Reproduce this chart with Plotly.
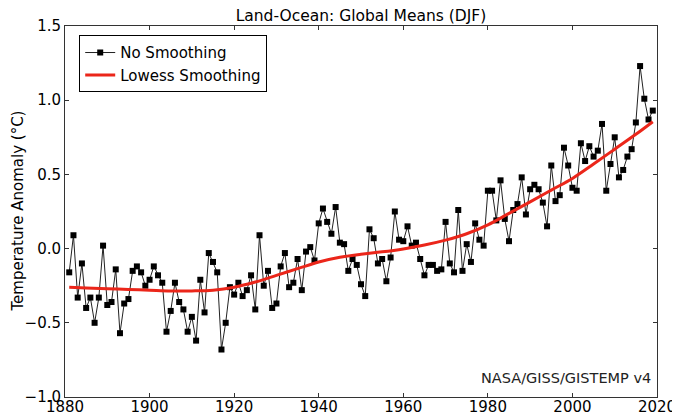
import plotly.graph_objects as go

years = list(range(1881, 2020))
anomaly = [
    -0.16, 0.09, -0.33, -0.10, -0.40, -0.33, -0.50, -0.33, 0.02, -0.38,   # 1881-1890
    -0.36, -0.14, -0.57, -0.37, -0.34, -0.15, -0.12, -0.16, -0.25, -0.21,  # 1891-1900
    -0.12, -0.18, -0.23, -0.56, -0.42, -0.23, -0.36, -0.41, -0.56, -0.46,  # 1901-1910
    -0.62, -0.21, -0.43, -0.03, -0.09, -0.16, -0.68, -0.50, -0.26, -0.31,  # 1911-1920
    -0.23, -0.32, -0.28, -0.18, -0.41, 0.09, -0.25, -0.15, -0.40, -0.37,   # 1921-1930
    -0.12, -0.03, -0.26, -0.23, -0.07, -0.28, -0.02, 0.01, -0.08, 0.17,    # 1931-1940
    0.27, 0.18, 0.10, 0.28, 0.04, 0.03, -0.15, -0.07, -0.11, -0.24,        # 1941-1950
    -0.32, 0.13, 0.07, -0.10, -0.07, -0.22, -0.06, 0.25, 0.06, 0.05,       # 1951-1960
    0.15, 0.02, 0.04, -0.07, -0.18, -0.11, -0.11, -0.15, -0.14, 0.18,      # 1961-1970
    -0.10, -0.16, 0.26, -0.15, 0.03, -0.09, 0.17, 0.06, 0.02, 0.39,        # 1971-1980
    0.39, 0.19, 0.46, 0.20, 0.05, 0.26, 0.30, 0.48, 0.23, 0.40,            # 1981-1990
    0.43, 0.40, 0.31, 0.15, 0.56, 0.32, 0.36, 0.68, 0.56, 0.41,            # 1991-2000
    0.39, 0.71, 0.59, 0.69, 0.62, 0.66, 0.84, 0.39, 0.57, 0.75,            # 2001-2010
    0.48, 0.53, 0.62, 0.67, 0.85, 1.23, 1.01, 0.87, 0.93,                  # 2011-2019
]

lowess_years = [1881, 1885, 1890, 1895, 1900, 1905, 1910, 1915, 1920, 1925,
                1930, 1935, 1940, 1945, 1950, 1955, 1960, 1965, 1970, 1975,
                1980, 1985, 1990, 1995, 2000, 2005, 2010, 2015, 2019]
lowess_vals = [-0.26, -0.265, -0.27, -0.275, -0.28, -0.285, -0.285, -0.28, -0.26, -0.225,
               -0.18, -0.135, -0.09, -0.058, -0.038, -0.022, -0.002, 0.024, 0.057, 0.10,
               0.16, 0.237, 0.315, 0.394, 0.473, 0.57, 0.67, 0.77, 0.855]

x_ticks = [1880, 1900, 1920, 1940, 1960, 1980, 2000, 2020]
y_ticks = [-1.0, -0.5, 0.0, 0.5, 1.0, 1.5]

FONT = "DejaVu Sans"

fig = go.Figure()
fig.add_trace(go.Scatter(
    x=years, y=anomaly, mode="lines+markers", name="No Smoothing",
    line=dict(color="#222222", width=1),
    marker=dict(symbol="square", size=6, color="black"),
))
fig.add_trace(go.Scatter(
    x=lowess_years, y=lowess_vals, mode="lines", name="Lowess Smoothing",
    line=dict(color="rgb(235,38,26)", width=3, shape="spline"),
))

axis_common = dict(
    showline=True, linecolor="#333333", linewidth=1, mirror="allticks",
    ticks="inside", ticklen=4, tickcolor="#333333",
    showgrid=False, zeroline=False, automargin=False,
    tickfont=dict(family=FONT, size=15, color="black"),
)

fig.update_xaxes(range=[1880, 2020], tickvals=x_ticks,
                 ticktext=[str(t) for t in x_ticks], ticklabelstandoff=-4,
                 **axis_common)
fig.update_yaxes(range=[-1.0, 1.5], tickvals=y_ticks,
                 ticktext=[f"{t:.1f}".replace("-", "\u2212") for t in y_ticks],
                 **axis_common)

# page body has an 8px margin; figure size/margins compensate for it
fig.update_layout(
    width=672, height=410,
    margin=dict(l=57, r=23, t=18, b=21, autoexpand=False),
    paper_bgcolor="white", plot_bgcolor="white",
    font=dict(family=FONT, size=15, color="black"),
    title=dict(text="Land-Ocean: Global Means (DJF)", xref="paper", x=0.5, xanchor="center",
               y=0.981, yanchor="middle", font=dict(family=FONT, size=15.5, color="black")),
    legend=dict(x=0.024, y=0.975, xanchor="left", yanchor="top",
                bordercolor="black", borderwidth=1, bgcolor="white",
                tracegroupgap=0,
                font=dict(family=FONT, size=15, color="black")),
    showlegend=True,
    annotations=[
        dict(text="Temperature Anomaly (\u00b0C)", xref="paper", yref="paper",
             x=-0.081, y=0.5, xanchor="center", yanchor="middle", textangle=-90,
             showarrow=False, font=dict(family=FONT, size=15, color="black")),
        dict(text="NASA/GISS/GISTEMP v4", xref="paper", yref="paper",
             x=0.9935, y=0.05, xanchor="right", yanchor="middle",
             showarrow=False, font=dict(family=FONT, size=14.5, color="#222222")),
    ],
)

fig.write_html("out.html")
